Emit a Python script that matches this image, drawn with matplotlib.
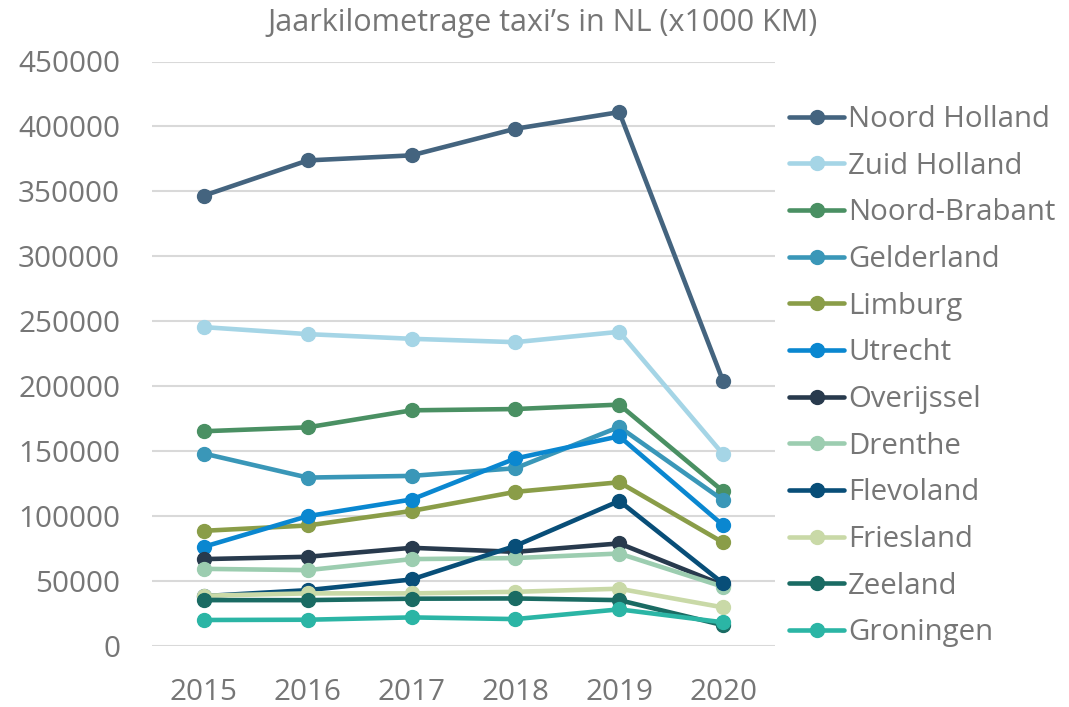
import matplotlib
matplotlib.use("Agg")
import matplotlib.pyplot as plt

years = ["2015", "2016", "2017", "2018", "2019", "2020"]

regions = ["Noord Holland", "Zuid Holland", "Noord-Brabant", "Gelderland", "Limburg",
           "Utrecht", "Overijssel", "Drenthe", "Flevoland", "Friesland", "Zeeland", "Groningen"]

noord_holland = [346700, 373800, 377700, 398200, 411000, 203800]
zuid_holland = [245400, 240000, 236400, 233800, 241800, 147500]
noord_brabant = [165200, 168200, 181300, 182300, 185700, 119000]
gelderland = [148000, 129500, 130800, 136700, 168500, 112100]
limburg = [88500, 92600, 103800, 118500, 125900, 79500]
utrecht = [76200, 99800, 112600, 144200, 161300, 92800]
overijssel = [66700, 68500, 75400, 72300, 78800, 46700]
drenthe = [59200, 58200, 66700, 67500, 71000, 45400]
flevoland = [38200, 42800, 51000, 76900, 111500, 48000]
friesland = [38500, 40300, 40300, 41500, 43900, 29500]
zeeland = [35100, 35100, 36200, 36400, 35100, 15800]
groningen = [19800, 20000, 21800, 20500, 28000, 18000]

series = [noord_holland, zuid_holland, noord_brabant, gelderland, limburg, utrecht,
          overijssel, drenthe, flevoland, friesland, zeeland, groningen]

colors = ["#44647F", "#A5D5E6", "#4A9063", "#3A97B8", "#8A9D48", "#0A87D0",
          "#283A4D", "#9CCDB0", "#084E78", "#C9D9A7", "#1A6B63", "#2BB5A5"]

yticks = [0, 50000, 100000, 150000, 200000, 250000, 300000, 350000, 400000, 450000]

plt.rcParams['font.family'] = ['Open Sans', 'DejaVu Sans']
text_color = "#767676"

fig = plt.figure(figsize=(10.69, 7.07), dpi=100)
ax = fig.add_axes([152/1069, 1 - 645.7/707, (775-152)/1069, (645.7-61.5)/707])

x = list(range(len(years)))
for name, vals, c in zip(regions, series, colors):
    ax.plot(x, vals, color=c, lw=3.3, marker='o', markersize=10, label=name,
            solid_capstyle='round')

ax.set_xlim(-0.5, len(years) - 0.5)
ax.set_ylim(0, 450000)
ax.set_yticks(yticks)
ax.set_yticklabels([str(v) for v in yticks])
ax.set_xticks(x)
ax.set_xticklabels(years)
ax.grid(axis='y', color='#D9D9D9', lw=1.5)
ax.set_axisbelow(True)
for s in ax.spines.values():
    s.set_visible(False)
ax.tick_params(axis='both', length=0, labelsize=21.3, colors=text_color)
ax.tick_params(axis='y', pad=23)
ax.tick_params(axis='x', pad=23)

fig.text(543/1069, 1 - 23/707, "Jaarkilometrage taxi’s in NL (x1000 KM)",
         ha='center', va='center', fontsize=22, color=text_color)

leg = fig.legend(loc='upper left', bbox_to_anchor=(789/1069, 1 - 105/707),
                 frameon=False, fontsize=21.2, labelcolor=text_color,
                 handlelength=1.88, handletextpad=0.12, labelspacing=0.6,
                 borderaxespad=0, borderpad=0)

fig.savefig("out.png", dpi=100)
